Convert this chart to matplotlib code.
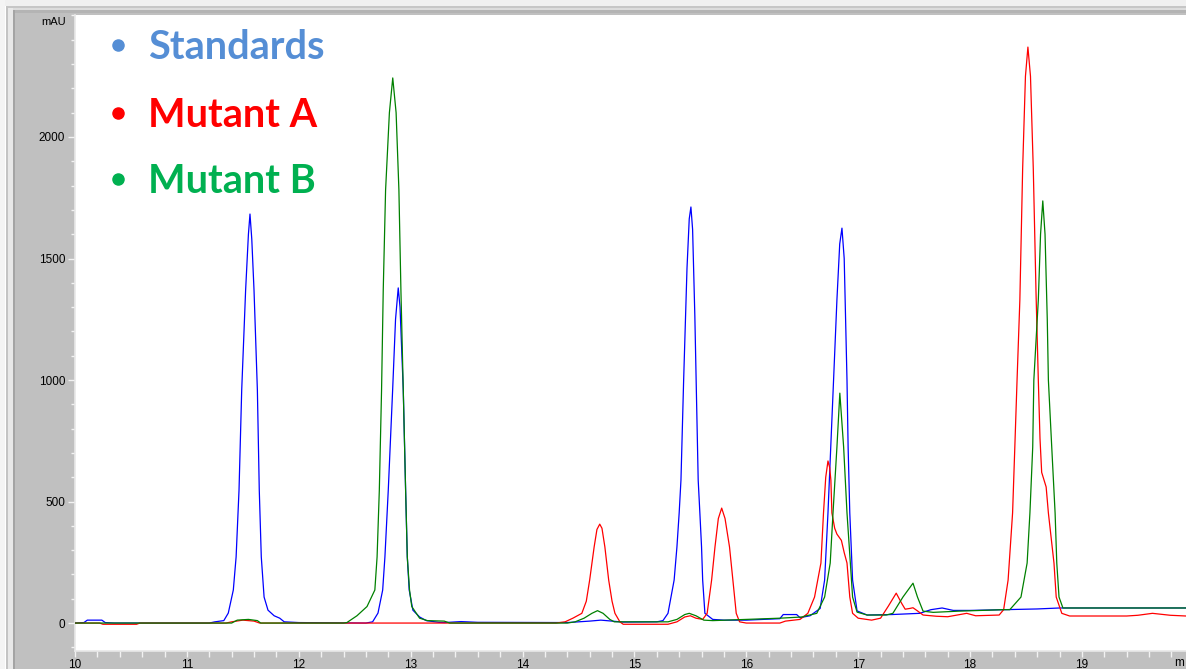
import matplotlib
matplotlib.use("Agg")
import matplotlib.pyplot as plt
from matplotlib.patches import Rectangle
from matplotlib.lines import Line2D
from matplotlib.ticker import MultipleLocator

# ---------------- data ----------------
std_t = [10.00, 10.08, 10.11, 10.24, 10.27, 10.35, 11.20, 11.25, 11.33, 11.37, 11.415, 11.44,
         11.466, 11.49, 11.525, 11.55, 11.564, 11.58, 11.60, 11.63, 11.647, 11.665, 11.69, 11.725,
         11.78, 11.83, 11.87, 12.00, 12.60, 12.66, 12.708, 12.75, 12.77, 12.80, 12.839, 12.865,
         12.889, 12.905, 12.934, 12.955, 12.97, 12.987, 13.02, 13.08, 13.14, 13.25, 13.30,
         13.45, 13.60, 14.40, 14.60, 14.70, 14.80, 14.90, 15.20, 15.255, 15.30, 15.355, 15.38,
         15.40, 15.416, 15.44, 15.47, 15.49, 15.505, 15.52, 15.54, 15.555, 15.57, 15.585, 15.60,
         15.61, 15.63, 15.70, 15.80, 16.00, 16.30, 16.33, 16.45, 16.48, 16.57, 16.66, 16.70,
         16.73, 16.78, 16.81, 16.835, 16.855, 16.875, 16.90, 16.91, 16.925, 16.95, 16.99, 17.08,
         17.30, 17.55, 17.65, 17.75, 17.85, 18.00, 18.30, 18.60, 18.80, 19.93]
std_v = [0, 2, 12, 12, 2, 0, 0, 5, 10, 41, 136, 272,
         547, 959, 1370, 1600, 1683, 1580, 1370, 959, 547, 272, 107, 53,
         30, 20, 5, 2, 0, 5, 41, 136, 272, 547, 959, 1250,
         1379, 1300, 959, 547, 272, 136, 53, 25, 10, 3, 2,
         6, 3, 2, 8, 12, 8, 4, 5, 10, 40, 177, 313,
         453, 588, 1000, 1460, 1663, 1712, 1620, 1265, 925, 588, 453, 313,
         177, 40, 15, 12, 12, 18, 35, 35, 22, 30, 60, 177,
         453, 1000, 1330, 1560, 1625, 1500, 1000, 724, 453, 177, 50, 33,
         35, 40, 55, 62, 52, 52, 55, 58, 62, 62]

mutA_t = [10.00, 10.22, 10.25, 10.55, 10.58, 11.35, 11.40, 11.50, 11.60, 11.65, 14.30, 14.38,
          14.45, 14.53, 14.57, 14.60, 14.64, 14.665, 14.69, 14.71, 14.736, 14.77, 14.80, 14.826,
          14.87, 14.90, 15.30, 15.38, 15.45, 15.50, 15.55, 15.61, 15.65, 15.69, 15.72, 15.75,
          15.78, 15.81, 15.85, 15.88, 15.91, 15.94, 16.00, 16.30, 16.35, 16.48, 16.55, 16.61,
          16.667, 16.69, 16.71, 16.73, 16.745, 16.756, 16.765, 16.79, 16.81, 16.85, 16.875, 16.90,
          16.925, 16.95, 17.00, 17.12, 17.20, 17.27, 17.34, 17.39, 17.42, 17.46, 17.49, 17.53,
          17.58, 17.70, 17.80, 17.97, 18.05, 18.26, 18.30, 18.34, 18.38, 18.40, 18.42, 18.445,
          18.47, 18.495, 18.517, 18.54, 18.565, 18.59, 18.61, 18.625, 18.64, 18.66, 18.68, 18.70,
          18.725, 18.75, 18.77, 18.82, 18.89, 19.40, 19.50, 19.63, 19.79, 19.93]
mutA_v = [0, 0, -5, -5, 0, 0, 5, 12, 8, 0, 0, 5,
          20, 40, 90, 177, 313, 385, 407, 390, 313, 177, 90, 40,
          5, -5, -5, 5, 25, 30, 20, 15, 40, 177, 313, 430,
          473, 430, 313, 177, 40, 5, 0, 0, 8, 15, 40, 107,
          247, 453, 600, 667, 640, 588, 453, 390, 366, 340, 290, 247,
          107, 40, 20, 12, 20, 70, 123, 80, 57, 60, 63, 50,
          33, 28, 26, 40, 30, 33, 55, 177, 453, 724, 1000, 1329,
          1870, 2250, 2370, 2250, 1870, 1350, 1000, 760, 620, 590, 560, 453,
          350, 247, 107, 40, 29, 29, 32, 40, 32, 29]

mutB_t = [10.00, 11.40, 11.45, 11.55, 11.63, 11.66, 12.40, 12.43, 12.52, 12.61, 12.68, 12.70,
          12.72, 12.74, 12.755, 12.776, 12.81, 12.84, 12.87, 12.895, 12.913, 12.934, 12.955, 12.97,
          12.99, 13.01, 13.08, 13.15, 13.30, 13.35, 14.40, 14.47, 14.55, 14.62, 14.67,
          14.72, 14.78, 14.82, 15.30, 15.38, 15.45, 15.49, 15.55, 15.62, 15.70, 16.00, 16.30,
          16.50, 16.52, 16.63, 16.70, 16.75, 16.775, 16.81, 16.836, 16.87, 16.90, 16.93, 16.95,
          16.99, 17.08, 17.25, 17.31, 17.40, 17.49, 17.53, 17.58, 17.67, 17.90, 18.30, 18.355,
          18.455, 18.51, 18.535, 18.56, 18.57, 18.61, 18.63, 18.65, 18.67, 18.69, 18.70, 18.73,
          18.76, 18.775, 18.795, 18.83, 19.93]
mutB_v = [0, 0, 12, 15, 10, 0, 0, 2, 30, 68, 136, 272,
          547, 959, 1370, 1782, 2100, 2243, 2100, 1782, 1370, 959, 547, 272,
          136, 68, 20, 10, 8, 0, 0, 5, 20, 40, 51,
          40, 15, 5, 5, 15, 35, 40, 30, 12, 10, 15, 20,
          25, 28, 40, 107, 247, 453, 724, 946, 724, 453, 247, 107,
          45, 33, 33, 40, 107, 164, 107, 49, 44, 49, 55, 55,
          107, 247, 453, 724, 1000, 1329, 1600, 1737, 1600, 1250, 1000, 724,
          453, 247, 107, 62, 62]

series_names = ["Standards", "Mutant A", "Mutant B"]
legend_colors = ["#558ED5", "#FF0000", "#00B050"]
line_colors = ["#0000FF", "#FF0000", "#008000"]

x_ticks = [10, 11, 12, 13, 14, 15, 16, 17, 18, 19]
y_ticks = [0, 500, 1000, 1500, 2000]

# ---------------- figure ----------------
W, H = 1186, 669
fig = plt.figure(figsize=(W / 100, H / 100), dpi=100, facecolor="#c0c0c0")

def fx(px):
    return px / W

def fy(py):
    return 1 - py / H

# window chrome strips
def frect(x0, y0, x1, y1, color):
    fig.add_artist(Rectangle((fx(x0), fy(y1)), fx(x1) - fx(x0), fy(y0) - fy(y1),
                             transform=fig.transFigure, facecolor=color, edgecolor="none", zorder=0))

frect(0, 0, W, 6, "#f0f0f0")
frect(0, 6, W, 8, "#c6c6c6")
frect(0, 8, W, 10, "#dcdcdc")
frect(0, 10, W, 13, "#b4b4b4")
frect(0, 0, 5, H, "#f4f4f4")
frect(5, 6, 6, H, "#ffffff")
frect(6, 6, 8, H, "#c4c4c4")
frect(8, 8, 13, H, "#e8e8e8")
frect(13, 10, 15, H, "#a4a4a4")

ax = fig.add_axes([fx(75), fy(651), fx(W) - fx(75), fy(15) - fy(651)])
ax.set_facecolor("white")
ax.set_xlim(10, 19.93)
ax.set_ylim(-115, 2502)

ax.plot(std_t, std_v, color=line_colors[0], lw=0.9, zorder=3)
ax.plot(mutA_t, mutA_v, color=line_colors[1], lw=0.9, zorder=4)
ax.plot(mutB_t, mutB_v, color=line_colors[2], lw=0.9, zorder=5)

ax.set_xticks(x_ticks)
ax.set_xticklabels([str(v) for v in x_ticks])
ax.set_yticks(y_ticks)
ax.set_yticklabels([str(v) for v in y_ticks])
ax.xaxis.set_minor_locator(MultipleLocator(0.2))
ax.yaxis.set_minor_locator(MultipleLocator(100))

tick_col = "#f2f2f2"
ax.tick_params(axis="y", which="major", length=5, width=1, color=tick_col, direction="out",
               labelsize=8.5, pad=2, labelcolor="black", labelfontfamily="Liberation Sans")
ax.tick_params(axis="y", which="minor", length=3, width=1, color=tick_col, direction="out")
ax.tick_params(axis="x", which="major", length=4, width=1, color=tick_col, direction="out",
               labelsize=8.5, pad=1.5, labelcolor="black", labelfontfamily="Liberation Sans")
ax.tick_params(axis="x", which="minor", length=4, width=1, color=tick_col, direction="out")

for s in ["top", "right"]:
    ax.spines[s].set_visible(False)
for s in ["left", "bottom"]:
    ax.spines[s].set_color("#e8e8e8")
    ax.spines[s].set_linewidth(1.2)

fig.text(fx(66), fy(22), "mAU", ha="right", va="center", fontsize=8,
         family="Liberation Sans", color="black")
fig.text(fx(1174), fy(663), "m", ha="left", va="center", fontsize=8.5,
         family="Liberation Sans", color="black")

# bullet legend
base_y = [59, 127, 193]
for name, col, by in zip(series_names, legend_colors, base_y):
    fig.add_artist(Line2D([fx(118)], [fy(by - 14)], marker="o", markersize=8,
                          color=col, linestyle="none", transform=fig.transFigure))
    fig.text(fx(148), fy(by), name, ha="left", va="baseline", fontsize=28.5,
             fontweight="bold", family="Lato", color=col)

fig.savefig("out.png", dpi=100, facecolor=fig.get_facecolor())
